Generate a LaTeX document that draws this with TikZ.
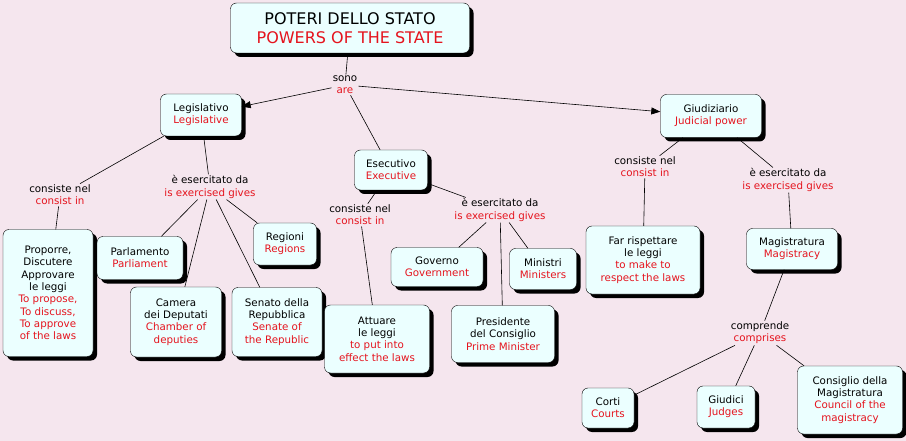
\documentclass[tikz,border=0pt]{standalone}
\usepackage{fontspec}
\setmainfont{DejaVu Sans}
\usetikzlibrary{shadows,arrows.meta}
\definecolor{bg}{HTML}{F5E6EE}
\definecolor{nf}{HTML}{EBFFFF}
\definecolor{rd}{HTML}{E5141E}
\newcommand{\R}[1]{\textcolor{rd}{#1}}
\begin{document}
\begin{tikzpicture}[x=1pt,y=-1pt,
 box/.style={draw=black,fill=nf,rounded corners=6pt,align=center,font=\fontsize{10.3}{12.3}\selectfont,inner sep=2pt,
   drop shadow={shadow xshift=4pt,shadow yshift=-4pt,fill=black,opacity=1}},
 lab/.style={align=center,font=\fontsize{10.3}{12.3}\selectfont,fill=bg,inner sep=1pt},
 ln/.style={draw=black,line width=0.6pt},
 ar/.style={ln,-{Triangle[length=9pt,width=7pt]}}]
\fill[bg] (0,0) rectangle (906,441);
\useasboundingbox (0,0) rectangle (906,441);
\node[box,minimum width=239,minimum height=50,font=\fontsize{16}{19}\selectfont] (t) at (350,28) {POTERI DELLO STATO\\\R{POWERS OF THE STATE}};
\node[lab] (sono) at (345,85) {sono\\\R{are}};
\node[box,minimum width=81,minimum height=42] (leg) at (201,115) {Legislativo\\\R{Legislative}};
\node[box,minimum width=73,minimum height=40] (ese) at (391,170) {Esecutivo\\\R{Executive}};
\node[box,minimum width=101,minimum height=43] (giu) at (711,116) {Giudiziario\\\R{Judicial power}};
\node[lab] (c1) at (60,195) {consiste nel\\\R{consist in}};
\node[lab] (e1) at (210,187) {è esercitato da\\\R{is exercised gives}};
\node[box,minimum width=90,minimum height=127] (pro) at (48,293) {Proporre,\\Discutere\\Approvare\\le leggi\\\R{To propose,}\\\R{To discuss,}\\\R{To approve}\\\R{of the laws}};
\node[box,minimum width=86,minimum height=43] (par) at (140,258) {Parlamento\\\R{Parliament}};
\node[box,minimum width=63,minimum height=42] (reg) at (285,244) {Regioni\\\R{Regions}};
\node[box,minimum width=91,minimum height=70] (cam) at (176,322) {Camera\\dei Deputati\\\R{Chamber of}\\\R{deputies}};
\node[box,minimum width=90,minimum height=69] (sen) at (277,322) {Senato della\\Repubblica\\\R{Senate of}\\\R{the Republic}};
\node[lab] (c2) at (360,215) {consiste nel\\\R{consist in}};
\node[lab] (e2) at (500,210) {è esercitato da\\\R{is exercised gives}};
\node[box,minimum width=105,minimum height=68] (att) at (377,339) {Attuare\\le leggi\\\R{to put into}\\\R{effect the laws}};
\node[box,minimum width=92,minimum height=39] (gov) at (437,267) {Governo\\\R{Government}};
\node[box,minimum width=67,minimum height=41] (min) at (543,269) {Ministri\\\R{Ministers}};
\node[box,minimum width=103,minimum height=57] (pre) at (503,334) {Presidente\\del Consiglio\\\R{Prime Minister}};
\node[lab] (c3) at (645,167) {consiste nel\\\R{consist in}};
\node[lab] (e3) at (788,180) {è esercitato da\\\R{is exercised gives}};
\node[box,minimum width=114,minimum height=68] (far) at (643,260) {Far rispettare\\le leggi\\\R{to make to}\\\R{respect the laws}};
\node[box,minimum width=91,minimum height=41] (mag) at (792,249) {Magistratura\\\R{Magistracy}};
\node[lab] (com) at (760,333) {comprende\\\R{comprises}};
\node[box,minimum width=52,minimum height=40] (cor) at (608,408) {Corti\\\R{Courts}};
\node[box,minimum width=58,minimum height=42] (giud) at (726,407) {Giudici\\\R{Judges}};
\node[box,minimum width=105,minimum height=68] (con) at (850,400) {Consiglio della\\Magistratura\\\R{Council of the}\\\R{magistracy}};
\draw[ln] (t) -- (sono);
\draw[ar] (sono) -- (leg);
\draw[ar] (sono) -- (giu);
\draw[ln] (sono) -- (ese);
\draw[ln] (leg) -- (c1); \draw[ln] (c1) -- (pro);
\draw[ln] (leg) -- (e1);
\draw[ln] (e1) -- (par); \draw[ln] (e1) -- (reg); \draw[ln] (e1) -- (cam); \draw[ln] (e1) -- (sen);
\draw[ln] (ese) -- (c2); \draw[ln] (c2) -- (att);
\draw[ln] (ese) -- (e2);
\draw[ln] (e2) -- (gov); \draw[ln] (e2) -- (min); \draw[ln] (e2) -- (pre);
\draw[ln] (giu) -- (c3); \draw[ln] (c3) -- (far);
\draw[ln] (giu) -- (e3); \draw[ln] (e3) -- (mag);
\draw[ln] (mag) -- (com);
\draw[ln] (com) -- (cor); \draw[ln] (com) -- (giud); \draw[ln] (com) -- (con);
\end{tikzpicture}
\end{document}
